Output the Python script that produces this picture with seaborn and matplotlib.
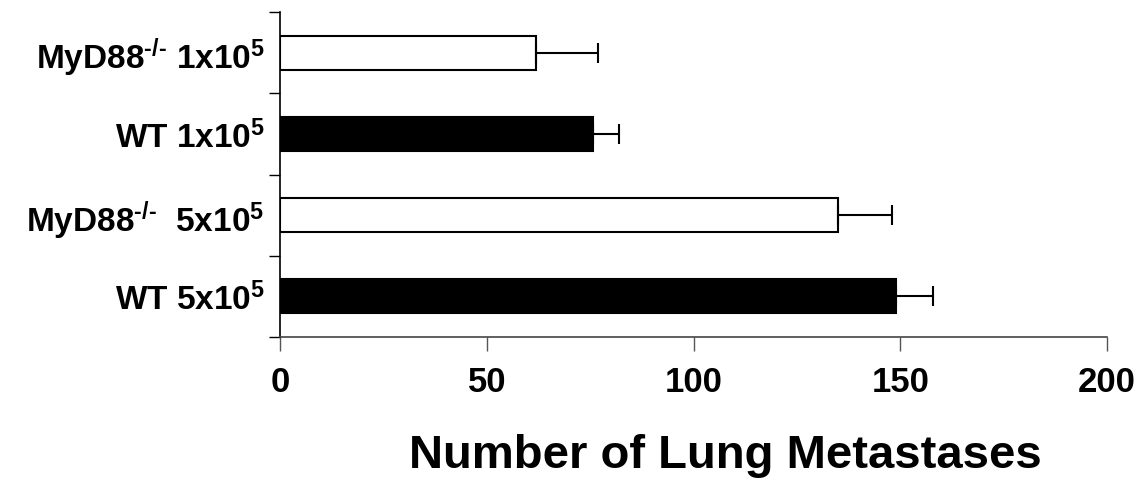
import matplotlib
matplotlib.use("Agg")
import matplotlib.pyplot as plt
import seaborn as sns
import pandas as pd
import numpy as np

categories = [r"MyD88$^{\text{-/-}}$ 1x10$^{5}$", r"WT 1x10$^{5}$",
              r"MyD88$^{\text{-/-}}$  5x10$^{5}$", r"WT 5x10$^{5}$"]
values = [62, 75.7, 135, 149]
errors = [14.8, 6.3, 13, 9]
fills = ["white", "black", "white", "black"]
xticks = [0, 50, 100, 150, 200]

sns.set_theme(style="white")
plt.rcParams['font.family'] = ['Liberation Sans', 'DejaVu Sans']
plt.rcParams['font.weight'] = 'bold'
plt.rcParams['text.color'] = 'black'
plt.rcParams['axes.labelcolor'] = 'black'
plt.rcParams['xtick.color'] = 'black'
plt.rcParams['ytick.color'] = 'black'
plt.rcParams['mathtext.fontset'] = 'custom'
plt.rcParams['mathtext.rm'] = 'Liberation Sans:bold'
plt.rcParams['mathtext.bf'] = 'Liberation Sans:bold'
plt.rcParams['mathtext.it'] = 'Liberation Sans:bold'
plt.rcParams['mathtext.default'] = 'rm'

df = pd.DataFrame({"cat": categories, "val": values})

fig = plt.figure(figsize=(11.48, 4.8), dpi=100)
ax = fig.add_axes([280/1148, 1-337/480, 827/1148, 325/480])

sns.barplot(data=df, x="val", y="cat", hue="cat", palette=fills, legend=False,
            orient="h", width=0.42, edgecolor="black", linewidth=1.5, ax=ax,
            errorbar=None)
ax.errorbar(values, np.arange(len(values)),
            xerr=[np.zeros(len(errors)), errors], fmt="none",
            ecolor="black", elinewidth=1.5, capsize=7, capthick=1.5)

ax.set_xlim(0, 200)
ax.set_ylim(3.5, -0.5)
ax.set_xticks(xticks)
ax.set_xticklabels([str(t) for t in xticks], fontsize=25, fontweight="bold", color="black")
ax.set_yticks(range(len(categories)))
ax.set_yticklabels(categories, fontsize=24, fontweight="bold", color="black")
ax.set_yticks(np.arange(-0.5, 4, 1.0), minor=True)
ax.tick_params(axis="y", which="major", length=0, pad=11)
ax.tick_params(axis="y", which="minor", length=8, width=1, color="black", left=True)
ax.tick_params(axis="x", which="major", length=10, width=1, color="#555555", bottom=True, pad=11)

ax.set_xlabel("Number of Lung Metastases", fontsize=34, fontweight="bold", color="black")
ax.set_ylabel("")
ax.xaxis.set_label_coords(0.539, -0.30)
ax.xaxis.label.set_va("top")

for s in ["top", "right"]:
    ax.spines[s].set_visible(False)
ax.spines["left"].set_color("black")
ax.spines["left"].set_linewidth(1.2)
ax.spines["bottom"].set_color("#444444")
ax.spines["bottom"].set_linewidth(1.2)

fig.savefig("out.png", dpi=100)
